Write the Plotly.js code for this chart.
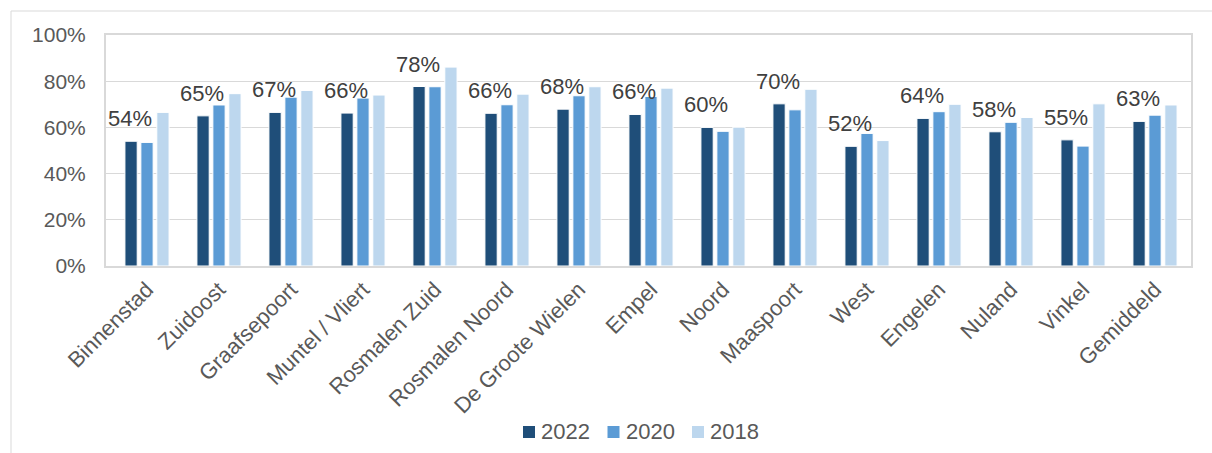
<!DOCTYPE html>
<html>
<head>
<meta charset="utf-8">
<script src="https://cdn.plot.ly/plotly-3.0.1.min.js"></script>
<style>html,body{margin:0;padding:0;background:#fff;}#chart{width:1212px;height:453px;}</style>
</head>
<body>
<div id="chart"></div>
<script>
const categories = ["Binnenstad","Zuidoost","Graafsepoort","Muntel / Vliert","Rosmalen Zuid","Rosmalen Noord","De Groote Wielen","Empel","Noord","Maaspoort","West","Engelen","Nuland","Vinkel","Gemiddeld"];
const values2022 = [0.54,0.65,0.665,0.662,0.777,0.661,0.679,0.656,0.60,0.702,0.518,0.639,0.581,0.546,0.626];
const values2020 = [0.535,0.697,0.731,0.727,0.776,0.698,0.737,0.734,0.583,0.676,0.574,0.668,0.622,0.519,0.653];
const values2018 = [0.665,0.746,0.76,0.74,0.861,0.744,0.776,0.77,0.601,0.765,0.543,0.70,0.643,0.702,0.697];
const seriesNames = ["2022","2020","2018"];
const colors = ["#1F4E79","#5B9BD5","#BDD7EE"];

const allValues = [values2022, values2020, values2018];
const traces = allValues.map((vals, i) => ({
  type: 'bar',
  name: seriesNames[i],
  x: categories,
  y: vals,
  marker: {color: colors[i], line: {color: '#ffffff', width: 1}},
  hoverinfo: 'x+y',
  showlegend: false
}));

const ML = 106, MR = 21, MT = 35, MB = 187, W = 1212, H = 453;
const pw = W - ML - MR, ph = H - MT - MB;
const px = v => (v - ML) / pw;
const py = v => (H - MB - v) / ph;
const FONT = 'Liberation Sans, Arial, sans-serif';

const annotations = categories.map((c, i) => ({
  x: c, y: values2022[i], xref: 'x', yref: 'y',
  text: Math.round(values2022[i] * 100) + '%',
  showarrow: false, yanchor: 'bottom', xanchor: 'center',
  xshift: -17, yshift: 8,
  font: {family: FONT, size: 22, color: '#404040'}
}));

// custom legend
const legendX = [523, 607.5, 692];
const legendY = 432;
const shapes = [
  {type: 'line', xref: 'paper', yref: 'paper', x0: px(11), x1: px(11), y0: py(11), y1: py(453), line: {color: '#d9d9d9', width: 1}},
  {type: 'line', xref: 'paper', yref: 'paper', x0: px(11), x1: px(1212), y0: py(11), y1: py(11), line: {color: '#d9d9d9', width: 1}}
];
seriesNames.forEach((n, i) => {
  shapes.push({type: 'rect', xref: 'paper', yref: 'paper',
    x0: px(legendX[i]), x1: px(legendX[i] + 12), y0: py(legendY + 6), y1: py(legendY - 6),
    fillcolor: colors[i], line: {width: 0}});
  annotations.push({xref: 'paper', yref: 'paper', x: px(legendX[i] + 16), y: py(legendY),
    xanchor: 'left', yanchor: 'middle', showarrow: false, text: n,
    font: {family: FONT, size: 22, color: '#595959'}});
});

const layout = {
  width: W, height: H,
  margin: {l: ML, r: MR, t: MT, b: MB, pad: 0, autoexpand: false},
  paper_bgcolor: '#ffffff', plot_bgcolor: '#ffffff',
  font: {family: FONT, size: 22, color: '#595959'},
  barmode: 'group', bargap: 0.336, bargroupgap: 0.23,
  showlegend: false,
  xaxis: {type: 'category', tickangle: -45, showgrid: false, showline: true, mirror: true,
          linecolor: '#d9d9d9', linewidth: 2, ticks: '', tickfont: {size: 22, color: '#595959'},
          automargin: false, fixedrange: true},
  yaxis: {range: [0, 1], dtick: 0.2, tickformat: '.0%', showgrid: true, gridcolor: '#d9d9d9',
          gridwidth: 1, showline: true, mirror: true, linecolor: '#d9d9d9', linewidth: 2,
          zeroline: false, ticks: '', ticklabelstandoff: 14, tickfont: {size: 21, color: '#595959'},
          automargin: false, fixedrange: true},
  annotations: annotations,
  shapes: shapes
};

Plotly.newPlot('chart', traces, layout, {displayModeBar: false, staticPlot: true});
</script>
</body>
</html>
